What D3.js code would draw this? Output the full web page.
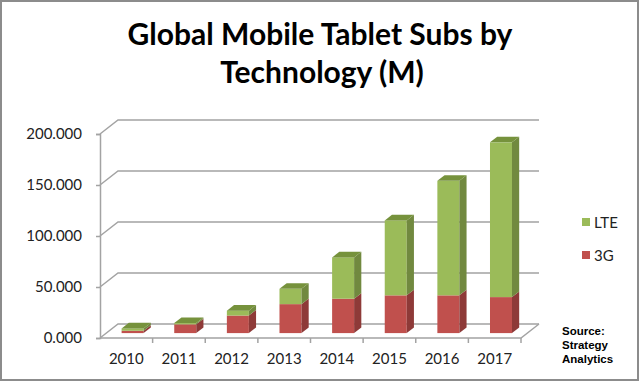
<!DOCTYPE html>
<html>
<head>
<meta charset="utf-8">
<script src="https://cdn.jsdelivr.net/npm/d3@7"></script>
<style>
  html, body { margin: 0; padding: 0; background: #fff; }
  svg { display: block; }
</style>
</head>
<body>
<svg id="chart" width="640" height="385"></svg>
<script>
// ---- data ----
const years = ["2010", "2011", "2012", "2013", "2014", "2015", "2016", "2017"];
const g3Values = [2.3, 8.6, 17.2, 28.4, 33.7, 37.0, 37.0, 35.3];
const lteValues = [2.3, 1.2, 4.8, 15.0, 40.5, 73.5, 112.3, 151.7];
const yTicks = [0, 50, 100, 150, 200];
const seriesNames = ["LTE", "3G"];
const titleLines = ["Global Mobile Tablet Subs by", "Technology (M)"];
const sourceLines = ["Source:", "Strategy", "Analytics"];

// ---- styles ----
const colors = {
  "3G": { front: "#C0504D", side: "#8E3A38", top: "#A8403D" },
  "LTE": { front: "#9BBB59", side: "#71893F", top: "#76923C" }
};
const gridColor = "#A3A3A3";

const svg = d3.select("#chart");

// frame
svg.append("rect").attr("x", 1).attr("y", 1).attr("width", 637).attr("height", 379)
  .attr("fill", "#fff").attr("stroke", "#8C8C8C").attr("stroke-width", 2);

// ---- title ----
const titleG = svg.append("g");
const t1 = titleG.append("text").attr("x", 320).attr("y", 45).attr("text-anchor", "middle")
  .attr("font-family", "Lato, 'Open Sans', sans-serif").attr("font-weight", "bold")
  .attr("font-size", 28).attr("fill", "#000").text(titleLines[0]);
const w1 = t1.node().getComputedTextLength();
const fs = 28 * 385 / w1;
t1.attr("font-size", fs);
titleG.append("text").attr("x", 322).attr("y", 83).attr("text-anchor", "middle")
  .attr("font-family", "Lato, 'Open Sans', sans-serif").attr("font-weight", "bold")
  .attr("font-size", fs).attr("fill", "#000").text(titleLines[1]);

// ---- scales ----
const x = d3.scaleBand().domain(years).range([100, 521]);
const y = d3.scaleLinear().domain([0, 200]).range([338, 134]);
const DX = 18, DY = -14;          // full floor depth
const t0 = 0.35, t1d = 0.75;      // bar depth extent
const faceW = 22;

// ---- walls / gridlines ----
const backRight = 521 + DX;
svg.append("g").selectAll("path").data(yTicks).join("path")
  .attr("d", v => `M100,${y(v)} L${100 + DX},${y(v) + DY} L${backRight},${y(v) + DY}`)
  .attr("fill", "none").attr("stroke", gridColor).attr("stroke-width", 1.5);

// floor front + right edge
svg.append("path")
  .attr("d", `M100,${y(0)} L521,${y(0)} L${backRight},${y(0) + DY}`)
  .attr("fill", "none").attr("stroke", gridColor).attr("stroke-width", 1.5);

// y axis
const yAxis = d3.axisLeft(y).tickValues(yTicks).tickFormat(d3.format(".3f")).tickSize(4).tickPadding(14);
const yAxisG = svg.append("g").attr("transform", "translate(100,0)").call(yAxis);
yAxisG.select(".domain").attr("stroke", gridColor).attr("stroke-width", 1.5);
yAxisG.selectAll(".tick line").attr("stroke", gridColor).attr("stroke-width", 1.5);
yAxisG.selectAll(".tick text").attr("font-family", "Lato, 'Open Sans', sans-serif")
  .attr("font-size", 15).attr("fill", "#222");

// x axis
const xAxis = d3.axisBottom(x).tickSize(0).tickPadding(15);
const xAxisG = svg.append("g").attr("transform", `translate(0,${y(0)})`).call(xAxis);
xAxisG.select(".domain").remove();
xAxisG.selectAll(".tick text").attr("font-family", "Lato, 'Open Sans', sans-serif")
  .attr("font-size", 15).attr("fill", "#222");
// category boundary ticks
const bounds = d3.range(1, years.length + 1).map(i => x.range()[0] + i * x.step());
svg.append("g").selectAll("line").data(bounds).join("line")
  .attr("x1", d => d).attr("x2", d => d).attr("y1", y(0)).attr("y2", y(0) + 5)
  .attr("stroke", gridColor).attr("stroke-width", 1.5);

// ---- bars ----
const data = years.map((yr, i) => ({ year: yr, segs: [
  { name: "3G", lo: 0, hi: g3Values[i] },
  { name: "LTE", lo: g3Values[i], hi: g3Values[i] + lteValues[i] }
]}));
const ox = DX * t0, oy = DY * t0;
const ddx = DX * (t1d - t0), ddy = DY * (t1d - t0);
const barsG = svg.append("g");
data.forEach(d => {
  const left = x(d.year) + x.bandwidth() / 2 - faceW / 2 + ox;
  const right = left + faceW;
  const g = barsG.append("g");
  d.segs.forEach((s, j) => {
    const yLo = y(s.lo) + oy, yHi = y(s.hi) + oy;
    const c = colors[s.name];
    // front
    g.append("rect").attr("x", left).attr("y", yHi).attr("width", faceW).attr("height", Math.max(0, yLo - yHi))
      .attr("fill", c.front);
    // side
    g.append("path").attr("d", `M${right},${yLo} L${right + ddx},${yLo + ddy} L${right + ddx},${yHi + ddy} L${right},${yHi} Z`)
      .attr("fill", c.side);
    if (j === d.segs.length - 1) {
      g.append("path").attr("d", `M${left},${yHi} L${left + ddx},${yHi + ddy} L${right + ddx},${yHi + ddy} L${right},${yHi} Z`)
        .attr("fill", c.top);
    }
  });
});

// ---- legend ----
const legend = svg.append("g");
seriesNames.forEach((n, i) => {
  const cy = 222 + i * 33;
  legend.append("rect").attr("x", 582).attr("y", cy - 4).attr("width", 8).attr("height", 8).attr("fill", colors[n].front);
  legend.append("text").attr("x", 594).attr("y", cy).attr("dominant-baseline", "central")
    .attr("font-family", "Lato, 'Open Sans', sans-serif").attr("font-size", 15).attr("fill", "#222").text(n);
});

// ---- source ----
svg.append("g").selectAll("text").data(sourceLines).join("text")
  .attr("x", 562).attr("y", (d, i) => 335 + i * 14)
  .attr("font-family", "'Liberation Sans', Arial, sans-serif").attr("font-weight", "bold")
  .attr("font-size", 11.5).attr("fill", "#000").text(d => d);
</script>
</body>
</html>
